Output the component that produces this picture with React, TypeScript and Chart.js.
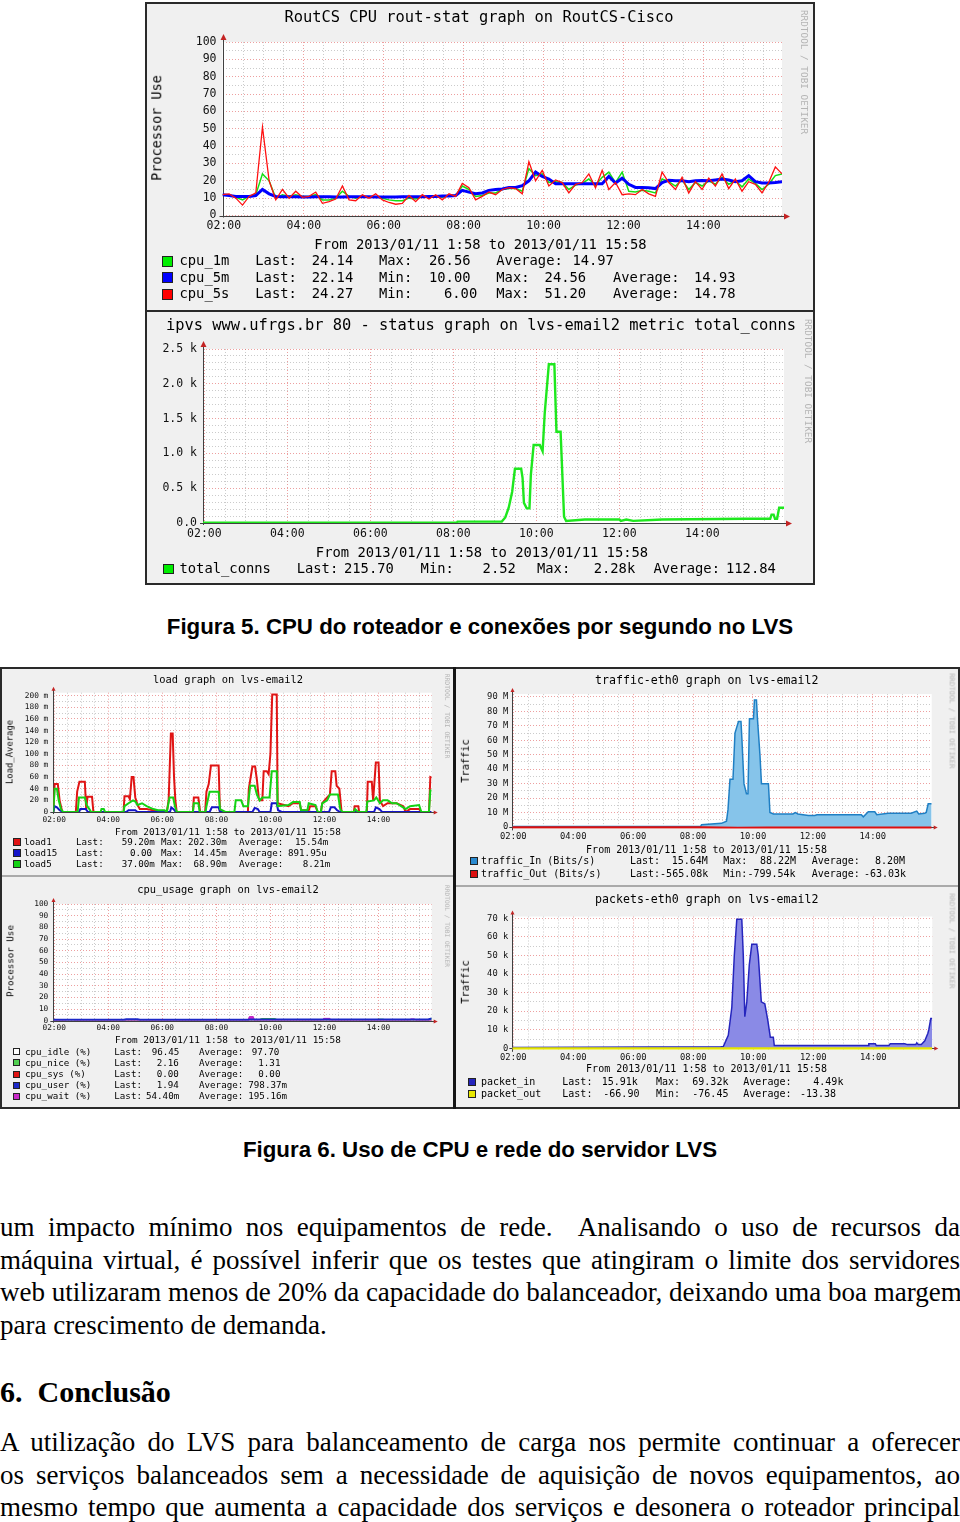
import React, { useEffect, useRef } from 'react';
import { Chart, registerables } from 'chart.js';

Chart.register(...registerables);

type Pt = [string, number];
const hm = (s: string): number => {
  const [h, m] = s.split(':').map(Number);
  return h + m / 60;
};

// ---------- common time axis ----------
const RANGE_START = '01:58';
const RANGE_END = '15:58';
const X_MIN = hm(RANGE_START);
const X_MAX = hm(RANGE_END);
const X_GRID_HOURS = [2, 2.5, 3, 3.5, 4, 4.5, 5, 5.5, 6, 6.5, 7, 7.5, 8, 8.5, 9, 9.5, 10, 10.5, 11, 11.5, 12, 12.5, 13, 13.5, 14, 14.5, 15, 15.5];

// ---------- Figura 5 (top): RoutCS CPU, 10-minute samples from 01:58 ----------
const CPU_STEP_MIN = 10;
const CPU_5S = [
  12, 12.5, 10, 6, 11, 13, 51, 20, 9, 15,
  10, 14, 10.5, 11, 13.5, 7, 8, 9.5, 17, 9,
  8.5, 12, 10, 12.5, 9, 7.5, 6.5, 7, 11.5, 8,
  12, 9.5, 12, 9, 12.5, 11, 18.5, 16, 9, 11,
  13.5, 12, 15, 16, 15.5, 12.5, 31, 20, 26, 17,
  20.5, 19, 13, 18, 19, 24, 16, 26, 15, 19,
  12, 12.5, 12, 15, 12.5, 11, 25, 19, 15, 22,
  13, 19.5, 15, 21.5, 17, 24, 15.5, 21, 14, 19.5,
  18, 13, 19, 28, 24,
];
const CPU_5M = [
  12, 11.5, 11, 11, 11, 11.5, 15, 12.5, 11,
  10.8, 10.8, 10.8, 10.6, 10.6, 10.8, 10.8, 10.8, 10.6, 10.6, 10.8, 10.8, 10.8, 10.8,
  10.6, 10.6, 10.6, 10.6, 10.8, 10.8, 10.8, 10.8, 11, 11, 11.2, 11.2, 11.5,
  14.5, 13.5, 12.5, 13, 14.5, 15, 15.3, 16.2, 16.2, 17.2, 20, 25, 22.5, 21,
  18.3, 18.3, 18.3, 18.3, 18.3, 18.3, 18.3, 18.3,
  22.5, 18.7, 21.5, 18, 16.2, 16.2, 16, 15.5, 19, 20.3, 20, 20, 19.5, 20, 20.2, 20,
  20.5, 21, 20.5, 19.5, 20, 23, 19.5, 18.7, 18.7, 19, 19.5,
];
const CPU_1M = [
  12, 12, 10.5, 9, 11, 12,
  24, 20, 10, 12, 11, 12, 11, 11, 12, 9,
  9, 10, 14, 11, 10, 11, 10.5, 11, 10, 9,
  8.5, 8.5, 10, 9.5, 11, 10.5, 11, 10.5, 11.5, 11.5,
  17, 15, 11, 11.5, 13, 13, 15, 15.5, 15.5, 14,
  27, 23, 24, 19, 19.5, 19, 15, 17.5, 18.5, 21,
  17.5, 22, 25, 19, 25, 14, 13.5, 14.5, 14, 13,
  21, 19.5, 17, 20.5, 15, 19, 17, 20, 18, 22,
  18, 20, 16.5, 21, 18.5, 15, 18, 23, 24,
];
const CPU_TIMES = CPU_5S.map((_, i) => X_MIN + (i * CPU_STEP_MIN) / 60);

// ---------- Figura 5 (bottom): ipvs total_conns (k) ----------
const IPVS_TOTAL_CONNS: Pt[] = [
  ['01:58', 0.003], ['08:05', 0.003], ['08:06', 0.02], ['09:10', 0.02], ['09:15', 0.08], ['09:20', 0.22],
  ['09:25', 0.45], ['09:29', 0.78], ['09:38', 0.78], ['09:40', 0.65], ['09:42', 0.29], ['09:46', 0.21],
  ['09:50', 0.21], ['09:52', 0.69], ['09:56', 1.12], ['10:05', 1.12], ['10:09', 1.03], ['10:12', 1.57],
  ['10:18', 2.28], ['10:26', 2.28], ['10:29', 1.31], ['10:35', 1.31], ['10:40', 0.09], ['10:43', 0.03],
  ['11:10', 0.05], ['12:00', 0.05], ['12:02', 0.03], ['12:10', 0.05], ['12:20', 0.03], ['13:02', 0.05],
  ['15:02', 0.06], ['15:38', 0.06], ['15:40', 0.12], ['15:43', 0.12], ['15:45', 0.06], ['15:48', 0.06],
  ['15:51', 0.22], ['15:58', 0.22],
];

// ---------- Figura 6: load (m) ----------
const LOAD1: Pt[] = [
  ['01:58', 0], ['02:01', 48], ['02:08', 48], ['02:12', 20], ['02:18', 0], ['02:48', 0], ['02:51', 35],
  ['02:56', 52], ['03:08', 52], ['03:11', 5], ['03:14', 26], ['03:24', 26], ['03:27', 0], ['04:34', 0],
  ['04:36', 27], ['04:45', 27], ['04:48', 22], ['04:52', 60], ['04:56', 60], ['05:00', 25], ['05:05', 12],
  ['05:10', 5], ['05:25', 5], ['05:40', 3], ['06:10', 0], ['06:14', 20], ['06:19', 135], ['06:23', 135],
  ['06:26', 60], ['06:29', 20], ['06:32', 0], ['07:08', 0], ['07:10', 25], ['07:20', 25], ['07:24', 0],
  ['07:35', 0], ['07:38', 35], ['07:43', 48], ['07:48', 80], ['08:05', 80], ['08:08', 0], ['09:10', 0],
  ['09:12', 40], ['09:20', 78], ['09:26', 78], ['09:30', 55], ['09:34', 25], ['09:36', 20], ['09:42', 20],
  ['09:45', 70], ['09:52', 70], ['09:56', 65], ['10:00', 100], ['10:04', 202], ['10:14', 202], ['10:16', 15],
  ['10:40', 10], ['10:50', 15], ['11:05', 15], ['11:08', 3], ['11:25', 3], ['11:28', 10], ['11:40', 10],
  ['11:45', 0], ['11:52', 0], ['11:55', 15], ['12:06', 25], ['12:12', 30], ['12:16', 70], ['12:24', 70],
  ['12:27', 45], ['12:33', 40], ['12:38', 0], ['13:05', 0], ['13:07', 10], ['13:15', 10], ['13:17', 0],
  ['13:34', 0], ['13:36', 52], ['13:45', 52], ['13:48', 20], ['13:54', 85], ['14:00', 85], ['14:03', 20],
  ['14:10', 10], ['14:20', 15], ['14:40', 15], ['14:55', 10], ['15:00', 0], ['15:10', 5], ['15:30', 5],
  ['15:35', 0], ['15:52', 0], ['15:55', 60], ['15:58', 59],
];
const LOAD5: Pt[] = [
  ['01:58', 0], ['02:01', 40], ['02:06', 40], ['02:10', 20], ['02:15', 5], ['02:20', 0], ['02:52', 0],
  ['02:55', 25], ['03:08', 25], ['03:12', 12], ['03:18', 5], ['03:22', 0], ['03:43', 0], ['03:45', 5],
  ['03:50', 5], ['03:53', 0], ['04:34', 0], ['04:36', 10], ['04:45', 15], ['04:55', 20], ['05:00', 18],
  ['05:05', 12], ['05:15', 15], ['05:25', 10], ['05:40', 5], ['05:50', 3], ['06:05', 3], ['06:10', 0],
  ['06:16', 25], ['06:24', 25], ['06:28', 10], ['06:32', 0], ['07:08', 0], ['07:10', 15], ['07:20', 15],
  ['07:23', 0], ['07:36', 0], ['07:38', 10], ['07:45', 35], ['08:05', 35], ['08:08', 5], ['08:20', 0],
  ['08:40', 0], ['08:43', 20], ['08:55', 20], ['09:00', 10], ['09:10', 10], ['09:15', 45], ['09:25', 45],
  ['09:30', 30], ['09:36', 20], ['09:42', 25], ['09:58', 25], ['10:03', 70], ['10:14', 70], ['10:16', 10],
  ['10:40', 12], ['10:50', 17], ['11:05', 17], ['11:08', 3], ['11:22', 3], ['11:25', 15], ['11:40', 12],
  ['11:45', 0], ['11:52', 0], ['11:55', 15], ['12:06', 20], ['12:12', 30], ['12:30', 30], ['12:35', 5],
  ['12:40', 0], ['13:05', 0], ['13:08', 5], ['13:15', 0], ['13:33', 0], ['13:35', 18], ['13:50', 20],
  ['13:55', 25], ['14:03', 15], ['14:10', 20], ['14:20', 20], ['14:30', 15], ['14:40', 15], ['14:50', 10],
  ['15:00', 5], ['15:10', 10], ['15:30', 12], ['15:35', 0], ['15:52', 0], ['15:55', 37], ['15:58', 37],
];
const LOAD15: Pt[] = [
  ['01:58', 0], ['02:01', 10], ['02:06', 8], ['02:12', 3], ['02:20', 0], ['02:55', 0], ['02:58', 5],
  ['03:10', 5], ['03:15', 0], ['04:40', 0], ['04:45', 3], ['05:00', 3], ['05:05', 0], ['06:17', 0],
  ['06:20', 8], ['06:25', 5], ['06:30', 0], ['07:45', 0], ['07:50', 8], ['08:05', 8], ['08:08', 0],
  ['09:20', 0], ['09:25', 7], ['09:32', 5], ['09:36', 0], ['10:00', 0], ['10:03', 15], ['10:14', 15],
  ['10:17', 3], ['10:25', 0], ['12:10', 0], ['12:14', 8], ['12:22', 8], ['12:28', 3], ['12:35', 0],
  ['13:50', 0], ['13:54', 8], ['14:02', 5], ['14:08', 0], ['15:58', 0],
];

// ---------- Figura 6: traffic-eth0 (M bits/s) ----------
const TRAFFIC_IN: Pt[] = [
  ['01:58', 0.3], ['08:15', 0.3], ['08:17', 1.5], ['08:57', 2.5], ['09:07', 4], ['09:10', 12], ['09:14', 33],
  ['09:20', 33], ['09:24', 65], ['09:31', 73], ['09:36', 73], ['09:38', 60], ['09:42', 30], ['09:47', 23],
  ['09:50', 23], ['09:53', 75], ['10:01', 75], ['10:03', 88], ['10:07', 88], ['10:09', 75], ['10:14', 50],
  ['10:17', 30], ['10:31', 30], ['10:34', 10], ['10:41', 9], ['11:20', 9], ['11:25', 10], ['11:30', 9],
  ['11:51', 8], ['12:04', 8], ['12:08', 8.5], ['13:37', 8.5], ['13:41', 7], ['13:51', 10.5], ['14:04', 10.5],
  ['14:08', 8.5], ['14:31', 9.5], ['15:17', 9.5], ['15:28', 11], ['15:32', 9], ['15:44', 9.5], ['15:47', 10],
  ['15:51', 16], ['15:58', 16],
];
const TRAFFIC_OUT: Pt[] = [
  ['01:58', -0.3], ['08:20', -0.3], ['09:30', -0.8], ['10:30', -0.6], ['15:58', -0.57],
];

// ---------- Figura 6: cpu_usage (%) ----------
const CPU_NICE: Pt[] = [
  ['01:58', 0.9], ['09:35', 0.9], ['09:40', 1.8], ['10:10', 1.8], ['10:15', 0.9], ['13:55', 0.9],
  ['14:00', 1.3], ['14:10', 1.3], ['14:15', 0.9], ['15:50', 0.9], ['15:58', 2.2],
];
const CPU_USER: Pt[] = [
  ['01:58', 0.8], ['04:35', 0.8], ['04:40', 1.3], ['05:05', 1.3], ['05:10', 0.8], ['09:10', 0.8],
  ['09:15', 1.1], ['15:50', 1.0], ['15:58', 1.9],
];
const CPU_WAIT: Pt[] = [
  ['01:58', 0], ['02:25', 0], ['02:28', 1], ['02:45', 1], ['02:48', 0], ['09:10', 0], ['09:13', 3.5],
  ['09:22', 3.5], ['09:25', 0], ['11:55', 0], ['11:58', 2], ['12:12', 2], ['12:15', 0], ['15:08', 0],
  ['15:11', 1.5], ['15:20', 1.5], ['15:23', 0], ['15:58', 0.05],
];

// ---------- Figura 6: packets-eth0 (k) ----------
const PACKET_IN: Pt[] = [
  ['01:58', 0.5], ['08:55', 0.8], ['09:00', 1], ['09:10', 7], ['09:17', 22], ['09:22', 50], ['09:27', 69.5],
  ['09:37', 69.5], ['09:40', 50], ['09:43', 17], ['09:47', 25], ['09:52', 45], ['09:57', 56], ['10:07', 56],
  ['10:10', 50], ['10:16', 25], ['10:23', 24], ['10:29', 15], ['10:34', 6], ['10:40', 6], ['10:42', 1.5],
  ['13:50', 1.5], ['13:51', 2.5], ['14:04', 2.5], ['14:06', 1.5], ['14:31', 1.5], ['14:34', 2.5], ['15:03', 2.5],
  ['15:08', 2], ['15:25', 2], ['15:27', 3], ['15:30', 2], ['15:36', 2], ['15:43', 4], ['15:49', 8],
  ['15:51', 10], ['15:55', 16], ['15:58', 16],
];
const PACKET_OUT: Pt[] = [['01:58', -0.07], ['15:58', -0.07]];

// ---------- helpers ----------
const MONO = '"DejaVu Sans Mono", "Liberation Mono", monospace';
const MAJOR = 'rgba(222, 80, 80, 0.55)';
const MINOR = 'rgba(140, 140, 140, 0.45)';
const PANEL_BG = '#f0f0f0';

const pts = (list: Pt[]) => list.map(([t, v]) => ({ x: hm(t), y: v }));
const series = (times: number[], vals: number[]) => vals.map((v, i) => ({ x: times[i], y: v }));
const line = (label: string, data: any[], color: string, width: number) => ({
  label, data, borderColor: color, backgroundColor: color, borderWidth: width, pointRadius: 0, fill: false,
});
const area = (label: string, data: any[], stroke: string, fillColor: string, width: number) => ({
  label, data, borderColor: stroke, backgroundColor: fillColor, borderWidth: width, pointRadius: 0, fill: 'origin',
});

const rrdAxes = {
  id: 'rrdAxes',
  beforeDraw(chart: any) {
    const { ctx, chartArea: a } = chart;
    ctx.save();
    ctx.fillStyle = '#ffffff';
    ctx.fillRect(a.left, a.top, a.right - a.left, a.bottom - a.top);
    ctx.restore();
  },
  beforeDatasetsDraw(chart: any, _args: any, o: any) {
    const { ctx, chartArea: a, scales } = chart;
    const y0 = Math.round(scales.y.getPixelForValue(0)) + 0.5;
    const x0 = Math.round(a.left) + 0.5;
    ctx.save();
    ctx.strokeStyle = '#404040';
    ctx.lineWidth = 1;
    ctx.beginPath();
    ctx.moveTo(x0, a.bottom + 2);
    ctx.lineTo(x0, a.top - o.arrow + 2);
    ctx.moveTo(a.left - 3, y0);
    ctx.lineTo(a.right + o.arrow - 2, y0);
    ctx.stroke();
    ctx.restore();
  },
  afterDatasetsDraw(chart: any, _args: any, o: any) {
    const { ctx, chartArea: a, scales } = chart;
    const y0 = Math.round(scales.y.getPixelForValue(0)) + 0.5;
    const x0 = Math.round(a.left) + 0.5;
    const t = a.top - o.arrow;
    const r = a.right + o.arrow;
    ctx.save();
    ctx.fillStyle = '#c42424';
    ctx.beginPath();
    ctx.moveTo(x0, t);
    ctx.lineTo(x0 - o.aw, t + o.ah);
    ctx.lineTo(x0 + o.aw, t + o.ah);
    ctx.closePath();
    ctx.fill();
    ctx.beginPath();
    ctx.moveTo(r, y0);
    ctx.lineTo(r - o.ah, y0 - o.aw);
    ctx.lineTo(r - o.ah, y0 + o.aw);
    ctx.closePath();
    ctx.fill();
    ctx.restore();
  },
};

type Spec = {
  box: [number, number, number, number];
  area: [number, number, number, number];
  yMin: number;
  yMax: number;
  yStep: number;
  yMajor: number;
  yFmt: (v: number) => string;
  tick: number;
  yPad: number;
  xPad: number;
  arrow: number;
  aw: number;
  ah: number;
  datasets: any[];
};

function RrdChart({ p }: { p: Spec }) {
  const ref = useRef<HTMLCanvasElement | null>(null);
  useEffect(() => {
    const [bx, by, bw, bh] = p.box;
    const [al, at, ar, ab] = p.area;
    const yW = al - bx;
    const xH = by + bh - ab;
    const yTicks: number[] = [];
    for (let i = 0; i * p.yStep <= p.yMax + 1e-9; i++) yTicks.push(+(i * p.yStep).toFixed(4));
    const isMajY = (v: number) => Math.abs(v / p.yMajor - Math.round(v / p.yMajor)) < 1e-6;
    const isMajX = (v: number) => Math.abs(v / 2 - Math.round(v / 2)) < 1e-6;
    const font = { family: MONO, size: p.tick };
    const chart = new Chart(ref.current as HTMLCanvasElement, {
      type: 'line',
      data: { datasets: p.datasets },
      options: {
        animation: false,
        responsive: false,
        events: [],
        layout: {
          autoPadding: false,
          padding: { left: 0, top: at - by, right: bx + bw - ar, bottom: 0 },
        },
        plugins: {
          legend: { display: false },
          tooltip: { enabled: false },
          rrdAxes: { arrow: p.arrow, aw: p.aw, ah: p.ah },
        },
        elements: { point: { radius: 0 }, line: { tension: 0 } },
        scales: {
          x: {
            type: 'linear',
            min: X_MIN,
            max: X_MAX,
            afterBuildTicks: (s: any) => { s.ticks = X_GRID_HOURS.map((v) => ({ value: v })); },
            afterFit: (s: any) => { s.height = xH; },
            ticks: {
              autoSkip: false, maxRotation: 0, minRotation: 0, padding: p.xPad, color: '#111', font,
              callback: (v: any) => (isMajX(+v) ? `${String(Math.round(+v)).padStart(2, '0')}:00` : ''),
            },
            grid: { drawTicks: false, lineWidth: 1, color: (c: any) => (c.tick && isMajX(c.tick.value) ? MAJOR : MINOR) },
            border: { display: false, dash: [1, 2] },
          },
          y: {
            type: 'linear',
            min: p.yMin,
            max: p.yMax,
            afterBuildTicks: (s: any) => { s.ticks = yTicks.map((v) => ({ value: v })); },
            afterFit: (s: any) => { s.width = yW; },
            ticks: {
              autoSkip: false, padding: p.yPad, color: '#111', font,
              callback: (v: any) => (isMajY(+v) ? p.yFmt(+v) : ''),
            },
            grid: { drawTicks: false, lineWidth: 1, color: (c: any) => (c.tick && isMajY(c.tick.value) ? MAJOR : MINOR) },
            border: { display: false, dash: [1, 2] },
          },
        },
      } as any,
      plugins: [rrdAxes as any],
    });
    return () => chart.destroy();
  }, []);
  const [bx, by, bw, bh] = p.box;
  return (
    <canvas ref={ref} width={bw} height={bh}
      style={{ position: 'absolute', left: bx, top: by, width: bw, height: bh }} />
  );
}

function Txt({ x, y, s, t, center, color, family, weight }: {
  x: number; y: number; s: number; t: string; center?: boolean; color?: string; family?: string; weight?: number;
}) {
  return (
    <div style={{
      position: 'absolute', left: x, top: y - s * 0.49, fontSize: s, lineHeight: `${s}px`,
      fontFamily: family || MONO, color: color || '#000', whiteSpace: 'pre', fontWeight: weight || 400,
      transform: center ? 'translateX(-50%)' : undefined,
    }}>{t}</div>
  );
}

function VTxt({ x, y, s, t, rot, color }: { x: number; y: number; s: number; t: string; rot: number; color?: string }) {
  return (
    <div style={{
      position: 'absolute', left: x, top: y, fontSize: s, lineHeight: `${s}px`, fontFamily: MONO,
      color: color || '#000', whiteSpace: 'pre', transform: `translate(-50%, -50%) rotate(${rot}deg)`,
    }}>{t}</div>
  );
}

type Row = { y: number; color: string; fields: [number, string][] };
function Legend({ rows, bx, bs, s }: { rows: Row[]; bx: number; bs: number; s: number }) {
  return (
    <>
      {rows.map((r, i) => (
        <React.Fragment key={i}>
          <div style={{
            position: 'absolute', left: bx, top: r.y - bs / 2, width: bs, height: bs, background: r.color,
            boxSizing: 'border-box', border: '1px solid #222',
          }} />
          {r.fields.map(([fx, ft], j) => <Txt key={j} x={fx} y={r.y} s={s} t={ft} />)}
        </React.Fragment>
      ))}
    </>
  );
}

const FROM = 'From 2013/01/11 1:58 to 2013/01/11 15:58';
const RRD = 'RRDTOOL / TOBI OETIKER';

const specCpu: Spec = {
  box: [147, 4, 666, 306], area: [222.5, 42, 782, 215.5], yMin: 0, yMax: 100, yStep: 5, yMajor: 10,
  yFmt: (v) => String(v), tick: 11.5, yPad: 6, xPad: 4, arrow: 8, aw: 3, ah: 6,
  datasets: [
    line('cpu_5s', series(CPU_TIMES, CPU_5S), '#ff1010', 1.3),
    line('cpu_5m', series(CPU_TIMES, CPU_5M), '#0000ff', 3),
    line('cpu_1m', series(CPU_TIMES, CPU_1M), '#14e014', 1.5),
  ],
};
const specIpvs: Spec = {
  box: [147, 312, 666, 271], area: [203, 349, 784, 523], yMin: 0, yMax: 2.5, yStep: 0.1, yMajor: 0.5,
  yFmt: (v) => (v === 0 ? '0.0' : `${v.toFixed(1)} k`), tick: 11.5, yPad: 6, xPad: 4, arrow: 8, aw: 3, ah: 6,
  datasets: [line('total_conns', pts(IPVS_TOTAL_CONNS), '#1ee81e', 2.4)],
};
const specLoad: Spec = {
  box: [2, 669, 451, 206], area: [53.3, 692.7, 431.7, 812], yMin: 0, yMax: 205, yStep: 10, yMajor: 20,
  yFmt: (v) => (v === 0 ? '0' : `${v} m`), tick: 7.8, yPad: 5, xPad: 3, arrow: 6, aw: 2, ah: 4,
  datasets: [
    line('load5', pts(LOAD5), '#14d214', 2),
    line('load15', pts(LOAD15), '#1414c8', 2),
    line('load1', pts(LOAD1), '#e01414', 2),
  ],
};
const specCpuUsage: Spec = {
  box: [2, 877, 451, 230], area: [53.3, 904, 431.7, 1020.7], yMin: 0, yMax: 100, yStep: 5, yMajor: 10,
  yFmt: (v) => String(v), tick: 7.8, yPad: 5, xPad: 3, arrow: 6, aw: 2, ah: 4,
  datasets: [
    line('cpu_user', pts(CPU_USER), '#1c28c8', 2),
    area('cpu_wait', pts(CPU_WAIT), '#c020c0', '#c828c8', 1),
    area('cpu_nice', pts(CPU_NICE), '#30c030', '#50d050', 1),
  ],
};
const specTraffic: Spec = {
  box: [457, 669, 501, 216], area: [512.3, 694.1, 931.7, 828.4], yMin: -1, yMax: 92, yStep: 5, yMajor: 10,
  yFmt: (v) => (v === 0 ? '0' : `${v} M`), tick: 8.8, yPad: 4, xPad: 3, arrow: 6, aw: 2, ah: 4,
  datasets: [
    line('traffic_Out', pts(TRAFFIC_OUT), '#dd1010', 2.5),
    area('traffic_In', pts(TRAFFIC_IN), '#1f7fc4', '#86c4ea', 1.5),
  ],
};
const specPackets: Spec = {
  box: [457, 887, 501, 220], area: [512.3, 916.5, 932.3, 1049.8], yMin: -0.8, yMax: 71, yStep: 5, yMajor: 10,
  yFmt: (v) => (v === 0 ? '0' : `${v} k`), tick: 8.8, yPad: 4, xPad: 3, arrow: 6, aw: 2, ah: 4,
  datasets: [
    line('packet_out', pts(PACKET_OUT), '#e6e600', 2.5),
    area('packet_in', pts(PACKET_IN), '#2525bd', '#8a8ae6', 1.5),
  ],
};

const SERIF = '"Liberation Serif", "Times New Roman", serif';
const SANS = '"Liberation Sans", Arial, sans-serif';

function Line({ top, t, justify }: { top: number; t: string; justify: boolean }) {
  return (
    <div style={{
      position: 'absolute', left: 0, top, width: 960, fontFamily: SERIF, fontSize: 27, lineHeight: '32px',
      textAlign: justify ? 'justify' : 'left', textAlignLast: justify ? 'justify' : 'left', whiteSpace: 'nowrap',
      color: '#000',
    } as any}>{t}</div>
  );
}

export default function App() {
  return (
    <div style={{ position: 'absolute', left: 0, top: 0, width: 960, height: 1522, background: '#fff', overflow: 'hidden' }}>
      {/* Figura 5 frame */}
      <div style={{ position: 'absolute', left: 145, top: 2, width: 670, height: 583, boxSizing: 'border-box', border: '2px solid #2a2a2a', background: PANEL_BG }} />
      <div style={{ position: 'absolute', left: 145, top: 310, width: 670, height: 2, background: '#2a2a2a' }} />
      <RrdChart p={specCpu} />
      <RrdChart p={specIpvs} />
      <Txt x={479} y={18} s={15.4} t="RoutCS CPU rout-stat graph on RoutCS-Cisco" center />
      <VTxt x={157} y={128} s={13.5} t="Processor Use" rot={-90} />
      <VTxt x={804} y={72} s={9.4} t={RRD} rot={90} color="#b4b4b4" />
      <Txt x={480.5} y={244.3} s={13.8} t={FROM} center />
      <Legend bx={162} bs={11} s={13.8} rows={[
        { y: 261, color: '#00ee00', fields: [[179.5, 'cpu_1m'], [255.3, 'Last:'], [311.7, '24.14'], [379, 'Max:'], [429, '26.56'], [496.3, 'Average:'], [572.4, '14.97']] },
        { y: 277.3, color: '#0000ff', fields: [[179.5, 'cpu_5m'], [255.3, 'Last:'], [311.7, '22.14'], [379, 'Min:'], [429, '10.00'], [496.3, 'Max:'], [544.6, '24.56'], [613, 'Average:'], [694, '14.93']] },
        { y: 294, color: '#ff0000', fields: [[179.5, 'cpu_5s'], [255.3, 'Last:'], [311.7, '24.27'], [379, 'Min:'], [444, '6.00'], [496.3, 'Max:'], [544.6, '51.20'], [613, 'Average:'], [694, '14.78']] },
      ]} />

      <Txt x={481} y={326} s={15.4} t="ipvs www.ufrgs.br 80 - status graph on lvs-email2 metric total_conns" center />
      <VTxt x={808} y={381} s={9.4} t={RRD} rot={90} color="#b4b4b4" />
      <Txt x={482} y={552.3} s={13.8} t={FROM} center />
      <Legend bx={163} bs={10.5} s={13.8} rows={[
        { y: 569, color: '#00ee00', fields: [[179.5, 'total_conns'], [296.7, 'Last:'], [344, '215.70'], [420.6, 'Min:'], [482.6, '2.52'], [537, 'Max:'], [593.7, '2.28k'], [653.5, 'Average:'], [726, '112.84']] },
      ]} />

      <div style={{ position: 'absolute', left: 0, top: 614.3, width: 960, textAlign: 'center', fontFamily: SANS, fontWeight: 700, fontSize: 22.3, lineHeight: '26px' }}>
        Figura 5. CPU do roteador e conexões por segundo no LVS
      </div>

      {/* Figura 6 frame */}
      <div style={{ position: 'absolute', left: 0, top: 667, width: 960, height: 442, boxSizing: 'border-box', border: '2px solid #2a2a2a', background: PANEL_BG }} />
      <div style={{ position: 'absolute', left: 453, top: 667, width: 3, height: 442, background: '#151515' }} />
      <div style={{ position: 'absolute', left: 2, top: 875, width: 451, height: 2, background: '#aaaaaa' }} />
      <div style={{ position: 'absolute', left: 456, top: 885, width: 502, height: 2, background: '#aaaaaa' }} />

      <RrdChart p={specLoad} />
      <Txt x={228} y={678.7} s={10.4} t="load graph on lvs-email2" center />
      <VTxt x={10} y={752} s={8.9} t="Load_Average" rot={-90} />
      <VTxt x={446.7} y={715.5} s={6.4} t={RRD} rot={90} color="#b4b4b4" />
      <Txt x={228} y={832} s={9.4} t={FROM} center />
      <Legend bx={13} bs={7.5} s={9.2} rows={[
        { y: 842, color: '#e01414', fields: [[24, 'load1'], [76, 'Last:'], [121.7, '59.20m'], [161, 'Max:'], [188, '202.30m'], [239, 'Average:'], [295, '15.54m']] },
        { y: 853, color: '#1414c8', fields: [[24, 'load15'], [76, 'Last:'], [130, '0.00'], [161, 'Max:'], [193.5, '14.45m'], [239, 'Average:'], [288, '891.95u']] },
        { y: 864, color: '#14d214', fields: [[24, 'load5'], [76, 'Last:'], [121.7, '37.00m'], [161, 'Max:'], [193.5, '68.90m'], [239, 'Average:'], [302.7, '8.21m']] },
      ]} />

      <RrdChart p={specCpuUsage} />
      <Txt x={228} y={889} s={10.4} t="cpu_usage graph on lvs-email2" center />
      <VTxt x={10} y={961} s={9.2} t="Processor Use" rot={-90} />
      <VTxt x={446.7} y={926} s={6.2} t={RRD} rot={90} color="#b4b4b4" />
      <Txt x={228} y={1040} s={9.4} t={FROM} center />
      <Legend bx={13} bs={7} s={9.2} rows={[
        { y: 1051.7, color: '#ffffff', fields: [[25, 'cpu_idle (%)'], [114.3, 'Last:'], [151.7, '96.45'], [199, 'Average:'], [251.7, '97.70']] },
        { y: 1062.7, color: '#50d050', fields: [[25, 'cpu_nice (%)'], [114.3, 'Last:'], [156.7, '2.16'], [199, 'Average:'], [258.3, '1.31']] },
        { y: 1074, color: '#e01414', fields: [[25, 'cpu_sys (%)'], [114.3, 'Last:'], [156.7, '0.00'], [199, 'Average:'], [258.3, '0.00']] },
        { y: 1085, color: '#1c28c8', fields: [[25, 'cpu_user (%)'], [114.3, 'Last:'], [156.7, '1.94'], [199, 'Average:'], [248.3, '798.37m']] },
        { y: 1096, color: '#c828c8', fields: [[25, 'cpu_wait (%)'], [114.3, 'Last:'], [146, '54.40m'], [199, 'Average:'], [248.3, '195.16m']] },
      ]} />

      <RrdChart p={specTraffic} />
      <Txt x={706.7} y={680.3} s={11.6} t="traffic-eth0 graph on lvs-email2" center />
      <VTxt x={465} y={761} s={10.3} t="Traffic" rot={-90} />
      <VTxt x={951.7} y={720.5} s={7.2} t={RRD} rot={90} color="#b4b4b4" />
      <Txt x={706.5} y={849.7} s={10} t={FROM} center />
      <Legend bx={470} bs={8} s={10} rows={[
        { y: 861, color: '#2a8ad0', fields: [[481, 'traffic_In (Bits/s)'], [630, 'Last:'], [671.7, '15.64M'], [723.3, 'Max:'], [760, '88.22M'], [811.7, 'Average:'], [875, '8.20M']] },
        { y: 874, color: '#dd1010', fields: [[481, 'traffic_Out (Bits/s)'], [630, 'Last:-565.08k'], [723.3, 'Min:-799.54k'], [811.7, 'Average:'], [864, '-63.03k']] },
      ]} />

      <RrdChart p={specPackets} />
      <Txt x={706.7} y={900} s={11.6} t="packets-eth0 graph on lvs-email2" center />
      <VTxt x={465} y={982} s={10.3} t="Traffic" rot={-90} />
      <VTxt x={951.7} y={940.5} s={7.2} t={RRD} rot={90} color="#b4b4b4" />
      <Txt x={706.5} y={1069} s={10} t={FROM} center />
      <Legend bx={468} bs={8} s={10} rows={[
        { y: 1082, color: '#2525bd', fields: [[481, 'packet_in'], [562.3, 'Last:'], [601.7, '15.91k'], [656, 'Max:'], [692.3, '69.32k'], [743.3, 'Average:'], [813.3, '4.49k']] },
        { y: 1094, color: '#e6e600', fields: [[481, 'packet_out'], [562.3, 'Last:'], [603.3, '-66.90'], [656, 'Min:'], [692.3, '-76.45'], [743.3, 'Average:'], [800, '-13.38']] },
      ]} />

      <div style={{ position: 'absolute', left: 0, top: 1137.3, width: 960, textAlign: 'center', fontFamily: SANS, fontWeight: 700, fontSize: 22.3, lineHeight: '26px' }}>
        Figura 6. Uso de CPU e rede do servidor LVS
      </div>

      {/* body text */}
      <Line top={1211} t={'um impacto mínimo nos equipamentos de rede.\u00a0 Analisando o uso de recursos da'} justify />
      <Line top={1243.5} t="máquina virtual, é possível inferir que os testes que atingiram o limite dos servidores" justify />
      <Line top={1276} t="web utilizaram menos de 20% da capacidade do balanceador, deixando uma boa margem" justify />
      <Line top={1308.5} t="para crescimento de demanda." justify={false} />
      <div style={{ position: 'absolute', left: 0, top: 1374, fontFamily: SERIF, fontWeight: 700, fontSize: 30, lineHeight: '36px', whiteSpace: 'pre' }}>
        {'6.  Conclusão'}
      </div>
      <Line top={1426} t="A utilização do LVS para balanceamento de carga nos permite continuar a oferecer" justify />
      <Line top={1458.5} t="os serviços balanceados sem a necessidade de aquisição de novos equipamentos, ao" justify />
      <Line top={1491} t="mesmo tempo que aumenta a capacidade dos serviços e desonera o roteador principal" justify />
    </div>
  );
}
